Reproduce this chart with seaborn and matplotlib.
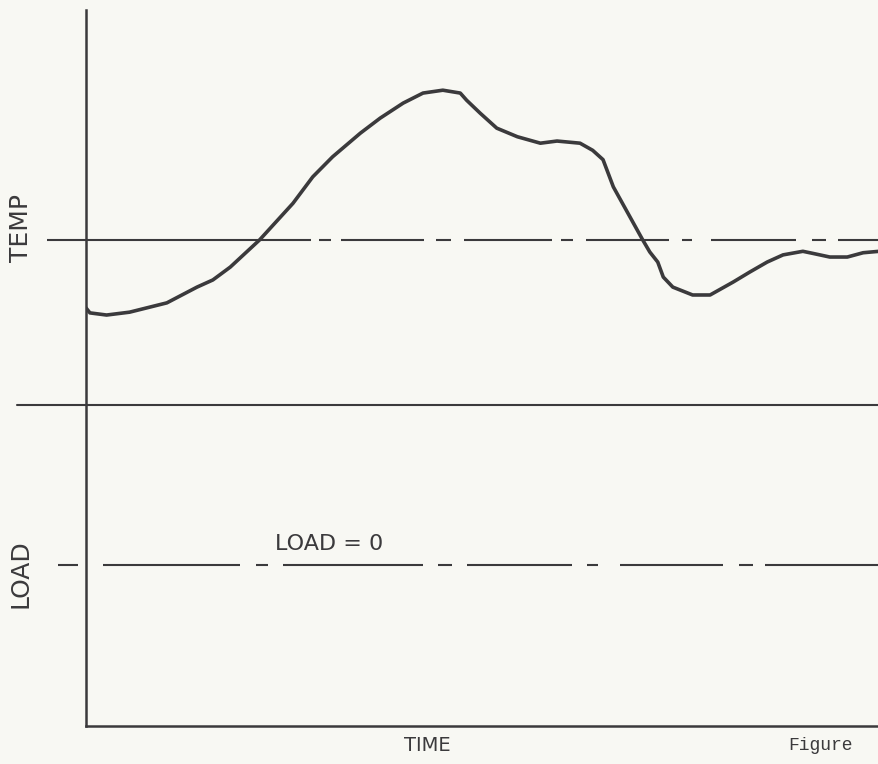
import matplotlib
matplotlib.use('Agg')
import matplotlib.pyplot as plt
import seaborn as sns
import pandas as pd

# --- data (arbitrary units) ---
time = [0.0, 0.5, 2.6, 5.5, 10.2, 14.0, 16.0, 18.2, 21.9, 26.1, 28.6, 31.1,
        34.6, 37.1, 40.0, 42.5, 45.0, 47.2, 48.0, 49.7, 51.8, 54.4, 57.3,
        59.4, 62.3, 63.9, 65.2, 66.5, 69.0, 70.2, 71.1, 72.1, 72.8, 74.0,
        76.5, 78.7, 81.6, 83.7, 85.9, 87.9, 90.4, 91.7, 93.8, 96.0, 98.0, 100.0]
temp = [58.4, 57.7, 57.4, 57.8, 59.1, 61.3, 62.3, 64.1, 67.9, 73.0, 76.7, 79.5,
        82.8, 84.9, 87.0, 88.4, 88.8, 88.4, 87.4, 85.6, 83.5, 82.3, 81.4,
        81.7, 81.4, 80.4, 79.1, 75.3, 70.3, 67.9, 66.2, 64.8, 62.7, 61.3,
        60.2, 60.2, 62.0, 63.4, 64.8, 65.8, 66.3, 66.0, 65.5, 65.5, 66.1, 66.3]

temp_setpoint = 67.9
panel_divider = 44.8
load_zero = 22.5

# hand drawn dash-dot patterns, in pixels
temp_dash_px = [264, 8, 12, 10, 83, 12, 15, 13, 88, 9, 12, 13, 83, 13, 10, 19,
                85, 16, 14, 12, 60, 10]
load_dash_px = [20, 25, 137, 16, 12, 15, 140, 15, 14, 15, 105, 15, 11, 22, 103,
                16, 14, 12, 140, 10]

# --- style ---
sns.set_theme(style='white')
plt.rcParams['font.family'] = ['DejaVu Sans']
plt.rcParams['lines.scale_dashes'] = False

ink = '#3b3a3c'
paper = '#f8f8f3'
px_to_pt = 0.72

fig = plt.figure(figsize=(8.79, 7.64), dpi=100, facecolor=paper)
ax = fig.add_axes([0.0978, 0.0497, 0.9022, 0.9372], facecolor=paper)

df = pd.DataFrame({'time': time, 'temp': temp})
sns.lineplot(data=df, x='time', y='temp', ax=ax, color=ink, linewidth=2.6,
             sort=False, zorder=3)

ax.set_xlim(0, 100)
ax.set_ylim(0, 100)

# reference lines
ax.plot([-4.92, 100], [temp_setpoint, temp_setpoint], color=ink, lw=1.5,
        dashes=[d * px_to_pt for d in temp_dash_px], clip_on=False)
ax.plot([-8.7, 100], [panel_divider, panel_divider], color=ink, lw=1.5,
        clip_on=False)
ax.plot([-3.53, 100], [load_zero, load_zero], color=ink, lw=1.5,
        dashes=[d * px_to_pt for d in load_dash_px], clip_on=False)

# axis frame
sns.despine(ax=ax)
for side in ['left', 'bottom']:
    ax.spines[side].set_color(ink)
    ax.spines[side].set_linewidth(1.8)
ax.set_xticks([])
ax.set_yticks([])
ax.set_xlabel('')
ax.set_ylabel('')

# labels
ax.text(-8.2, 69.6, 'TEMP', rotation=90, ha='center', va='center',
        fontsize=18, color=ink, clip_on=False)
ax.text(-8.3, 21.3, 'LOAD', rotation=90, ha='center', va='center',
        fontsize=18, color=ink, clip_on=False)
ax.text(30.6, 25.4, 'LOAD = 0', ha='center', va='center', fontsize=16,
        color=ink)
ax.text(43.0, -2.7, 'TIME', ha='center', va='center', fontsize=14,
        color=ink, clip_on=False)
ax.text(88.6, -2.7, 'Figure', ha='left', va='center', fontsize=13,
        family='Liberation Mono', color=ink, clip_on=False)

fig.savefig('out.png', dpi=100, facecolor=paper)
